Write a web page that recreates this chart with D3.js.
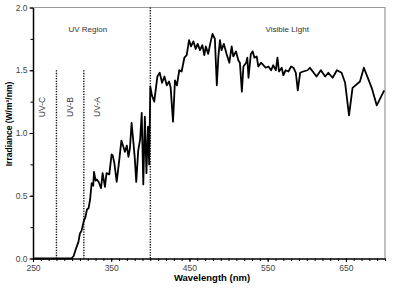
<!DOCTYPE html>
<html>
<head>
<meta charset="utf-8">
<script src="https://cdn.jsdelivr.net/npm/d3@7"></script>
<style>
  body { margin: 0; background: #fff; }
  svg { display: block; font-family: "Liberation Sans", Arial, sans-serif; }
  .axis path, .axis line { stroke: #000; }
  .axis text { fill: #444; font-size: 8.5px; }
</style>
</head>
<body>
<svg width="400" height="289"></svg>
<script>
const wavelength = [250, 299, 302, 305, 308, 310, 312, 315, 317, 319, 321, 323, 325, 327, 328,
  330, 331.5, 334, 337, 339, 342, 344, 347.5, 350.5, 352, 354, 357, 360, 363, 366, 367.5, 370,
  372, 374, 376, 378, 380, 382, 384.5, 387, 389, 391, 393, 395, 397, 398.5,
  400, 402, 405, 409, 412, 415, 418, 421, 424, 426, 429, 431.5, 434, 437, 440, 443.5, 446.5,
  449.5, 452, 455, 458, 460.5, 463.5, 466.5, 469, 471, 474, 476.5, 479.5, 482.5, 485, 487,
  489, 491, 494, 497.5, 501, 504, 506, 509.5, 512.5, 514.5, 517, 519, 522.5, 524, 525.5,
  528.5, 531, 533, 536, 538, 541.5, 544.5, 547.5, 551, 554.5, 557, 560.5, 562.5, 564.5, 568,
  570, 573, 576.5, 580, 583, 586, 588.5, 591.5, 595.5, 601, 604, 612.5, 618, 623.5, 627.5,
  633, 638.5, 644.5, 649, 654, 658.5, 668, 673, 683, 689.5, 699];
const irradiance = [0, 0, 0.02, 0.08, 0.13, 0.20, 0.22, 0.30, 0.33, 0.39, 0.40, 0.47, 0.60, 0.58, 0.69,
  0.62, 0.63, 0.61, 0.56, 0.68, 0.57, 0.68, 0.67, 0.83, 0.82, 0.76, 0.61, 0.77, 0.94, 0.88, 0.85, 0.90,
  0.81, 0.88, 1.08, 0.95, 0.81, 0.61, 0.86, 0.95, 1.16, 0.59, 1.13, 0.68, 1.05, 0.75,
  1.37, 1.30, 1.25, 1.45, 1.48, 1.40, 1.45, 1.38, 1.41, 1.36, 1.09, 1.42, 1.38, 1.50, 1.49, 1.60, 1.62,
  1.74, 1.69, 1.73, 1.67, 1.71, 1.66, 1.70, 1.62, 1.69, 1.63, 1.71, 1.79, 1.75, 1.38, 1.61,
  1.74, 1.66, 1.71, 1.63, 1.56, 1.69, 1.61, 1.65, 1.58, 1.56, 1.33, 1.53, 1.56, 1.60, 1.44,
  1.63, 1.65, 1.60, 1.61, 1.53, 1.56, 1.54, 1.52, 1.53, 1.50, 1.54, 1.50, 1.60, 1.49, 1.52,
  1.46, 1.50, 1.49, 1.53, 1.52, 1.48, 1.34, 1.48, 1.49, 1.50, 1.52, 1.45, 1.50, 1.45, 1.48,
  1.44, 1.50, 1.48, 1.40, 1.14, 1.36, 1.41, 1.52, 1.36, 1.22, 1.34];

const xTickLabels = [250, 350, 450, 550, 650];
const yTickLabels = [0, 0.5, 1.0, 1.5, 2.0];
// band boundaries: [wavelength, top irradiance]
const bandLines = [[280, 1.5], [315, 1.5], [400, 2.0]];
const bandNames = ["UV-C", "UV-B", "UV-A"];
const bandCenters = [261.5, 297, 332];
const regionNames = ["UV Region", "Visible LIght"];
const regionCenters = [320, 575];

const svg = d3.select("svg");
const x = d3.scaleLinear().domain([250, 700]).range([33, 385]);
const y = d3.scaleLinear().domain([0, 2]).range([258.5, 7.5]);

// frame (top and right grey)
svg.append("path")
  .attr("d", `M${x(250)},${y(2)}H${x(700)}V${y(0)}`)
  .attr("fill", "none").attr("stroke", "#999").attr("stroke-width", 1.2);

// minor ticks
svg.append("g").attr("class", "axis")
  .attr("transform", `translate(0,${y(0)})`)
  .call(d3.axisBottom(x).tickValues(d3.range(250, 701, 10)).tickSize(2.5).tickFormat(""))
  .call(g => g.select(".domain").remove());
svg.append("g").attr("class", "axis")
  .attr("transform", `translate(${x(250)},0)`)
  .call(d3.axisLeft(y).tickValues(d3.range(0, 2.01, 0.25)).tickSize(2.5).tickFormat(""))
  .call(g => g.select(".domain").remove());

// main axes
svg.append("g").attr("class", "axis")
  .attr("transform", `translate(0,${y(0)})`)
  .call(d3.axisBottom(x).tickValues(xTickLabels).tickSize(3.5).tickSizeOuter(0).tickPadding(3))
  .call(g => g.select(".domain").attr("stroke-width", 1.5));
svg.append("g").attr("class", "axis")
  .attr("transform", `translate(${x(250)},0)`)
  .call(d3.axisLeft(y).tickValues(yTickLabels).tickSize(3.5).tickSizeOuter(0).tickPadding(2).tickFormat(d3.format(".1f")))
  .call(g => g.select(".domain").attr("stroke-width", 1.5));

// dotted band lines
svg.append("g").selectAll("line").data(bandLines).join("line")
  .attr("x1", d => x(d[0])).attr("x2", d => x(d[0]))
  .attr("y1", d => y(d[1])).attr("y2", y(0))
  .attr("stroke", "#111").attr("stroke-width", 1.4).attr("stroke-dasharray", "1.3,1.3");

// spectrum
const pts = wavelength.map((w, i) => [w, irradiance[i]]);
svg.append("path").datum(pts)
  .attr("fill", "none").attr("stroke", "#000").attr("stroke-width", 1.8)
  .attr("stroke-linejoin", "round")
  .attr("d", d3.line().x(d => x(d[0])).y(d => y(d[1])));

// labels
svg.append("g").selectAll("text").data(regionNames).join("text")
  .attr("x", (d, i) => x(regionCenters[i])).attr("y", 32)
  .attr("text-anchor", "middle").attr("font-size", 8).attr("fill", "#333")
  .text(d => d);
svg.append("g").selectAll("text").data(bandNames).join("text")
  .attr("transform", (d, i) => `translate(${x(bandCenters[i]) + 3},107) rotate(-90)`)
  .attr("text-anchor", "middle").attr("font-size", 8.5).attr("fill", "#333")
  .text(d => d);

svg.append("text")
  .attr("x", 212).attr("y", 281)
  .attr("text-anchor", "middle").attr("font-size", 9.5).attr("font-weight", "bold")
  .text("Wavelength (nm)");
svg.append("text")
  .attr("transform", "translate(12,124) rotate(-90)")
  .attr("text-anchor", "middle").attr("font-size", 8.5).attr("font-weight", "bold")
  .text("Irradiance (W/m²/nm)");
</script>
</body>
</html>
